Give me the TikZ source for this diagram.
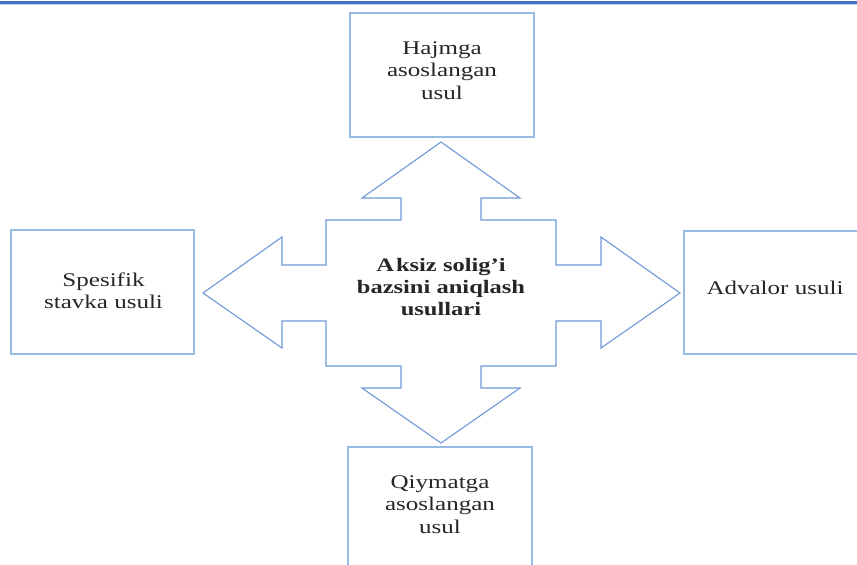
\documentclass[tikz,border=0pt]{standalone}
\usepackage{fontspec}
\setmainfont{Liberation Serif}[FakeStretch=1.29]
\definecolor{boxblue}{RGB}{150,186,228}
\definecolor{arrowblue}{RGB}{111,152,215}
\definecolor{topblue}{RGB}{68,114,196}
\definecolor{toplight}{RGB}{190,208,236}
\begin{document}
\begin{tikzpicture}[x=1pt,y=-1pt,
  methodbox/.style={draw=boxblue,line width=1.3pt,fill=none,inner sep=0pt},
  boxtext/.style={align=center,inner sep=0pt,font=\fontsize{19.4}{22.5}\selectfont,text=black!85},
  bigarrow/.style={draw=arrowblue,line width=1.1pt,line join=miter},
  centertext/.style={align=center,font=\fontsize{19}{22}\selectfont\bfseries,text=black!85}]
\useasboundingbox (0,0) rectangle (857,565);
% top rule
\draw[toplight,line width=1.2pt] (0,4.6) -- (857,4.6);
\draw[topblue,line width=2.2pt] (0,2.4) -- (857,2.4);
% four-way arrow
\draw[bigarrow] (441,142) -- (520,198) -- (481,198) -- (481,220) -- (556,220) -- (556,265)
  -- (601,265) -- (601,237) -- (680,293) -- (601,348) -- (601,321) -- (556,321)
  -- (556,366) -- (481,366) -- (481,388) -- (520,388) -- (441,443) -- (362,388)
  -- (401,388) -- (401,366) -- (326,366) -- (326,321) -- (282,321) -- (282,348)
  -- (203,293) -- (282,237) -- (282,265) -- (326,265) -- (326,220) -- (401,220)
  -- (401,198) -- (362,198) -- cycle;
\node[centertext] (center) at (441,287) {A\kern2pt ksiz solig’i\\bazsini aniqlash\\usullari};
% boxes
\node[methodbox,minimum width=184pt,minimum height=124pt] (top) at (442,75) {};
\node[methodbox,minimum width=183pt,minimum height=124pt] (left) at (102.5,292) {};
\node[methodbox,minimum width=182pt,minimum height=123pt] (right) at (775,292.5) {};
\node[methodbox,minimum width=184pt,minimum height=124pt] (bottom) at (440,509) {};
% box texts
\node[boxtext] (toptext) at ([yshift=4.5pt]top.center) {Hajmga\\asoslangan\\usul};
\node[boxtext] (lefttext) at ([xshift=1pt,yshift=1pt]left.center) {Spesifik\\stavka usuli};
\node[boxtext] (righttext) at ([yshift=4.5pt]right.center) {Advalor usuli};
\node[boxtext] (bottomtext) at ([yshift=4.5pt]bottom.center) {Qiymatga\\asoslangan\\usul};
\end{tikzpicture}
\end{document}
